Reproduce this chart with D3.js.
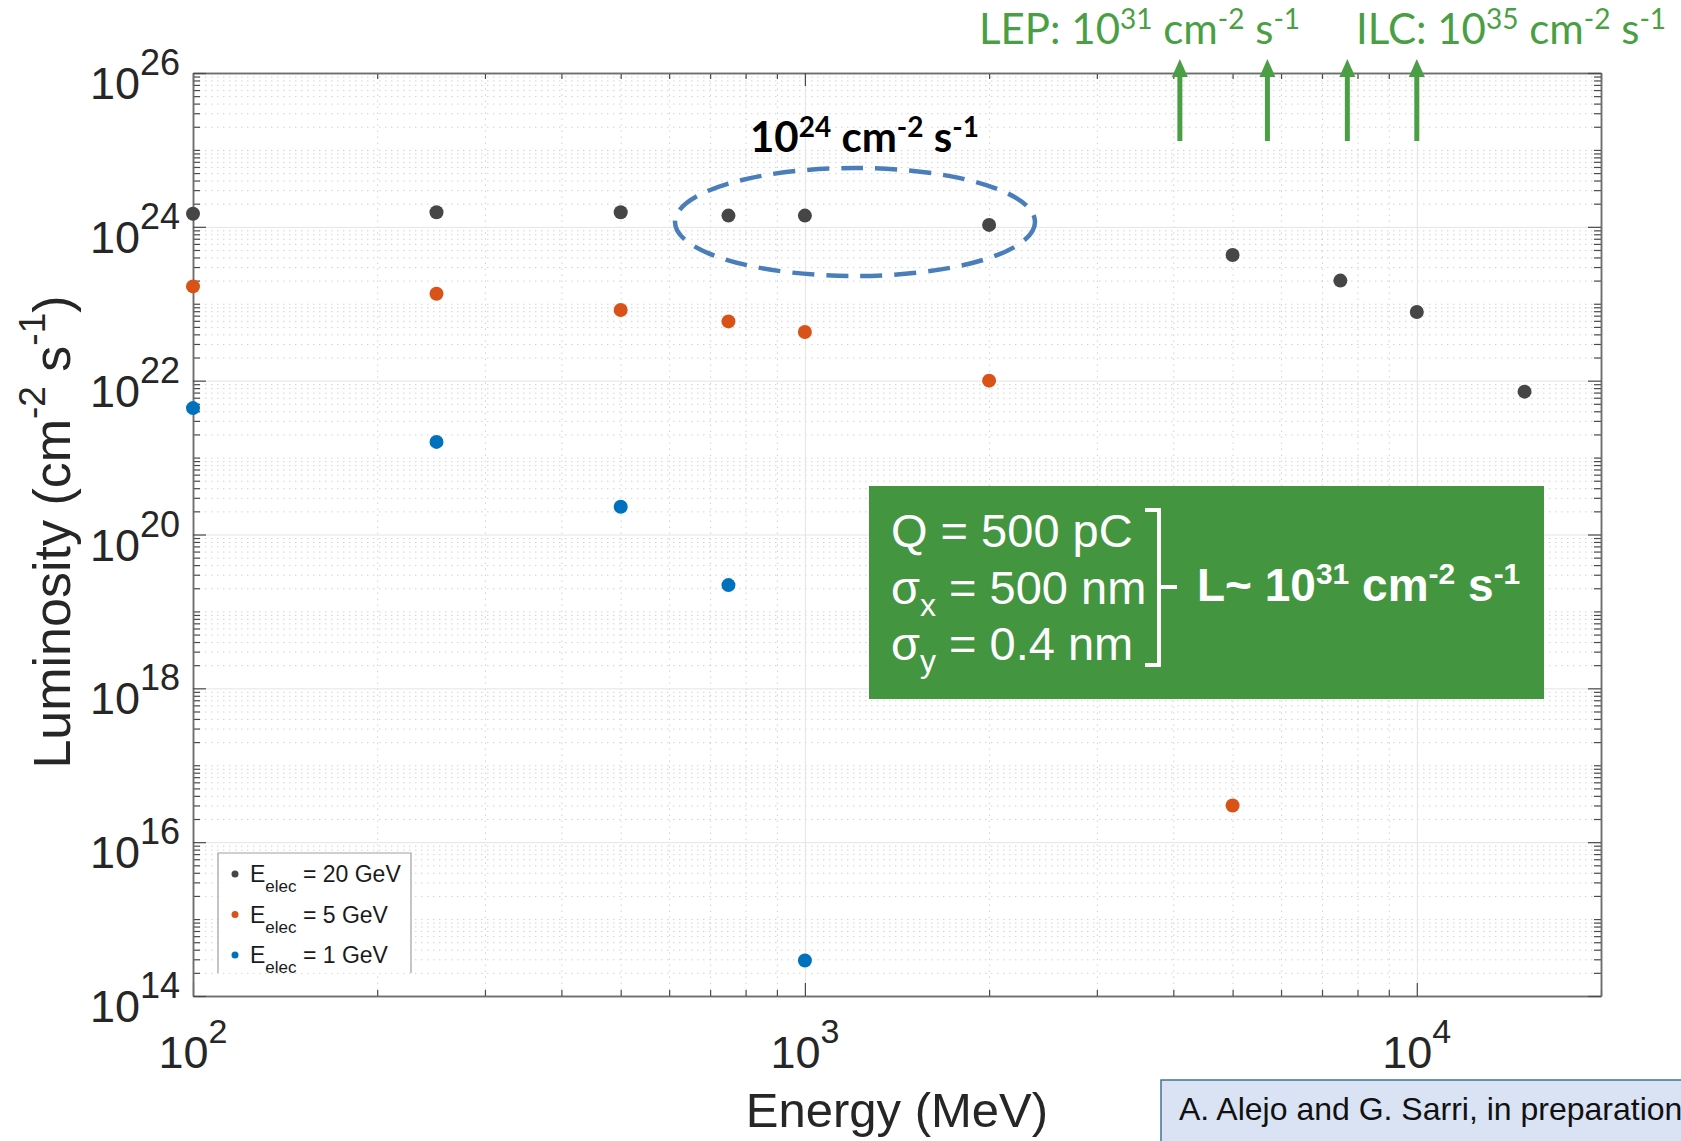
<!DOCTYPE html>
<html>
<head>
<meta charset="utf-8">
<script src="https://cdn.jsdelivr.net/npm/d3@7"></script>
<style>
  html, body { margin: 0; padding: 0; background: #fff; }
  svg { display: block; }
</style>
</head>
<body>
<div id="chart"></div>
<script>
// luminosity vs energy, three electron beam energies
const energy20 = [100, 250, 500, 750, 1000, 2000, 5000, 7500, 10000, 15000];
const lum20 = [1.48e24, 1.55e24, 1.55e24, 1.40e24, 1.40e24, 1.06e24, 4.3e23, 2.0e23, 7.8e22, 7.2e21];
const energy5 = [100, 250, 500, 750, 1000, 2000, 5000];
const lum5 = [1.68e23, 1.35e23, 8.3e22, 5.9e22, 4.3e22, 1.0e22, 3.0e16];
const energy1 = [100, 250, 500, 750, 1000];
const lum1 = [4.4e21, 1.6e21, 2.3e20, 2.2e19, 2.9e14];

const seriesLabels = ['20 GeV', '5 GeV', '1 GeV'];
const seriesColors = ['#464646', '#d95319', '#0072bd'];

const xTickExps = [2, 3, 4];
const yTickExps = [14, 16, 18, 20, 22, 24, 26];

// energies where the LEP / ILC arrows sit
const arrowEnergies = [4100, 5700, 7700, 10000];

const W = 1681, H = 1141;
const plot = { left: 193, right: 1601, top: 73, bottom: 996 };
const green = '#4a9f44';
const FONT = '"Liberation Sans", Arial, Helvetica, sans-serif';
const CAL = 'Lato, "Open Sans", sans-serif';

const svg = d3.select('#chart').append('svg')
    .attr('width', W).attr('height', H)
    .style('font-family', FONT);

svg.append('rect').attr('width', W).attr('height', H).attr('fill', '#fff');

const x = d3.scaleLog().domain([100, 20000]).range([plot.left, plot.right]);
const y = d3.scaleLog().domain([1e14, 1e26]).range([plot.bottom, plot.top]);
const innerW = plot.right - plot.left;
const innerH = plot.bottom - plot.top;

// text with super/subscripts: parts = [[text, kind]] kind 0 normal, 1 sup, -1 sub
function rich(sel, parts, base, small, supShift, subShift) {
    let cur = 0;
    parts.forEach(([t, k]) => {
        const target = k === 1 ? -supShift : (k === -1 ? subShift : 0);
        sel.append('tspan')
            .attr('dy', target - cur)
            .attr('font-size', k ? small : base)
            .text(t);
        cur = target;
    });
    return sel;
}

// minor / major tick values
const xMajor = xTickExps.map(e => Math.pow(10, e));
const xMinor = [];
for (let e = 2; e <= 4; e++) {
    for (let m = 2; m <= 9; m++) {
        const v = m * Math.pow(10, e);
        if (v <= 20000) xMinor.push(v);
    }
}
const yMajor = yTickExps.map(e => Math.pow(10, e));
const yMinor = [];
for (let e = 14; e < 26; e++) {
    for (let m = 1; m <= 9; m++) {
        const v = m * Math.pow(10, e);
        if (m === 1 && e % 2 === 0) continue;
        yMinor.push(v);
    }
}

// grid
const grid = svg.append('g');
grid.append('g')
    .attr('transform', `translate(0,${plot.bottom})`)
    .call(d3.axisBottom(x).tickValues(xMinor).tickSize(-innerH).tickFormat(''))
    .call(g => g.select('.domain').remove())
    .call(g => g.selectAll('line').attr('stroke', '#d2d2d2').attr('stroke-dasharray', '1.5,4.5'));
grid.append('g')
    .attr('transform', `translate(${plot.left},0)`)
    .call(d3.axisLeft(y).tickValues(yMinor).tickSize(-innerW).tickFormat(''))
    .call(g => g.select('.domain').remove())
    .call(g => g.selectAll('line').attr('stroke', '#d2d2d2').attr('stroke-dasharray', '1.5,4.5'));
grid.append('g')
    .attr('transform', `translate(0,${plot.bottom})`)
    .call(d3.axisBottom(x).tickValues(xMajor).tickSize(-innerH).tickFormat(''))
    .call(g => g.select('.domain').remove())
    .call(g => g.selectAll('line').attr('stroke', '#e4e4e4'));
grid.append('g')
    .attr('transform', `translate(${plot.left},0)`)
    .call(d3.axisLeft(y).tickValues(yMajor).tickSize(-innerW).tickFormat(''))
    .call(g => g.select('.domain').remove())
    .call(g => g.selectAll('line').attr('stroke', '#e4e4e4'));

// axes box with inward ticks on all four sides
function styleAxis(g) {
    g.select('.domain').attr('stroke', '#6e6e6e').attr('stroke-width', 1.5);
    g.selectAll('.tick line').attr('stroke', '#4a4a4a').attr('stroke-width', 1.2);
    g.selectAll('text').remove();
}
const axes = svg.append('g');
[[d3.axisBottom, plot.bottom], [d3.axisTop, plot.top]].forEach(([ax, pos]) => {
    axes.append('g').attr('transform', `translate(0,${pos})`)
        .call(ax(x).tickValues(xMinor).tickSize(-6).tickSizeOuter(0)).call(styleAxis);
    axes.append('g').attr('transform', `translate(0,${pos})`)
        .call(ax(x).tickValues(xMajor).tickSize(-13).tickSizeOuter(0)).call(styleAxis);
});
[[d3.axisLeft, plot.left], [d3.axisRight, plot.right]].forEach(([ax, pos]) => {
    axes.append('g').attr('transform', `translate(${pos},0)`)
        .call(ax(y).tickValues(yMinor).tickSize(-7).tickSizeOuter(0)).call(styleAxis);
    axes.append('g').attr('transform', `translate(${pos},0)`)
        .call(ax(y).tickValues(yMajor).tickSize(-13).tickSizeOuter(0)).call(styleAxis);
});

// tick labels
xTickExps.forEach(e => {
    const t = svg.append('text')
        .attr('x', x(Math.pow(10, e))).attr('y', 1068)
        .attr('text-anchor', 'middle').attr('fill', '#262626');
    rich(t, [['10', 0], [String(e), 1]], 45, 34, 25, 0);
});
yTickExps.forEach(e => {
    const t = svg.append('text')
        .attr('x', 180).attr('y', y(Math.pow(10, e)) + 26)
        .attr('text-anchor', 'end').attr('fill', '#262626');
    rich(t, [['10', 0], [String(e), 1]], 45, 36, 24, 0);
});

// axis titles
svg.append('text')
    .attr('x', 897).attr('y', 1127)
    .attr('text-anchor', 'middle').attr('font-size', 49).attr('fill', '#262626')
    .text('Energy (MeV)');
const yl = svg.append('text')
    .attr('transform', 'translate(70,532) rotate(-90)')
    .attr('text-anchor', 'middle').attr('fill', '#262626');
rich(yl, [['Luminosity (cm', 0], ['-2', 1], [' s', 0], ['-1', 1], [')', 0]], 52, 37, 25, 0);

// data points
const series = [
    { xs: energy20, ys: lum20, color: seriesColors[0] },
    { xs: energy5, ys: lum5, color: seriesColors[1] },
    { xs: energy1, ys: lum1, color: seriesColors[2] }
];
const dots = svg.append('g');
series.forEach(s => {
    dots.selectAll(null)
        .data(s.xs.map((e, i) => [e, s.ys[i]]))
        .join('circle')
        .attr('cx', d => x(d[0]))
        .attr('cy', d => y(d[1]))
        .attr('r', 7)
        .attr('fill', s.color);
});

// legend (bottom edge is cut in the original)
const leg = svg.append('g');
leg.append('rect').attr('x', 218).attr('y', 853).attr('width', 193).attr('height', 120).attr('fill', '#fff');
leg.append('path')
    .attr('d', 'M218,973V853H411V973')
    .attr('fill', 'none').attr('stroke', '#a0a0a0').attr('stroke-width', 1.2);
seriesLabels.forEach((lab, i) => {
    const cy = 874 + i * 40.5;
    leg.append('circle').attr('cx', 235).attr('cy', cy).attr('r', 3.5).attr('fill', seriesColors[i]);
    const t = leg.append('text').attr('x', 250).attr('y', cy + 8).attr('fill', '#1a1a1a');
    rich(t, [['E', 0], ['elec', -1], [' = ' + lab, 0]], 23, 17, 0, 10);
});

// dashed ellipse + bold label
svg.append('ellipse')
    .attr('cx', 855).attr('cy', 222).attr('rx', 180).attr('ry', 54)
    .attr('fill', 'none').attr('stroke', '#4a7ebb').attr('stroke-width', 4.5)
    .attr('stroke-dasharray', '22,12');
const ell = svg.append('text')
    .attr('x', 750).attr('y', 152).attr('font-family', CAL).attr('font-weight', 700).attr('fill', '#000');
rich(ell, [['10', 0], ['24', 1], [' cm', 0], ['-2', 1], [' s', 0], ['-1', 1]], 42, 28, 15, 0);

// LEP / ILC labels and arrows
const lep = svg.append('text').attr('x', 979).attr('y', 44).attr('font-family', CAL).attr('fill', green);
rich(lep, [['LEP: 10', 0], ['31', 1], [' cm', 0], ['-2', 1], [' s', 0], ['-1', 1]], 42, 28, 15, 0);
const ilc = svg.append('text').attr('x', 1356).attr('y', 44).attr('font-family', CAL).attr('fill', green);
rich(ilc, [['ILC: 10', 0], ['35', 1], [' cm', 0], ['-2', 1], [' s', 0], ['-1', 1]], 42, 28, 15, 0);

const arrows = svg.append('g');
arrowEnergies.forEach(e => {
    const ax = x(e);
    arrows.append('line')
        .attr('x1', ax).attr('x2', ax).attr('y1', 141).attr('y2', 74)
        .attr('stroke', green).attr('stroke-width', 5);
    arrows.append('path')
        .attr('d', `M${ax - 8},${77}L${ax},${59}L${ax + 8},${77}Z`)
        .attr('fill', green);
});

// green parameter box
const box = svg.append('g');
box.append('rect').attr('x', 869).attr('y', 486).attr('width', 675).attr('height', 213).attr('fill', '#43963f');
const q = box.append('text').attr('x', 891).attr('y', 547).attr('fill', '#fff');
rich(q, [['Q = 500 pC', 0]], 47, 32, 0, 0);
const sx = box.append('text').attr('x', 891).attr('y', 604).attr('fill', '#fff');
rich(sx, [['\u03c3', 0], ['x', -1], [' = 500 nm', 0]], 47, 32, 0, 12);
const sy = box.append('text').attr('x', 891).attr('y', 660).attr('fill', '#fff');
rich(sy, [['\u03c3', 0], ['y', -1], [' = 0.4 nm', 0]], 47, 32, 0, 12);
box.append('path')
    .attr('d', 'M1145,510H1159V665H1145M1159,587H1177')
    .attr('fill', 'none').attr('stroke', '#fff').attr('stroke-width', 4);
const lres = box.append('text').attr('x', 1197).attr('y', 601).attr('fill', '#fff').attr('font-weight', 700);
rich(lres, [['L~ 10', 0], ['31', 1], [' cm', 0], ['-2', 1], [' s', 0], ['-1', 1]], 46, 30, 17, 0);

// credit box
svg.append('rect')
    .attr('x', 1161).attr('y', 1080).attr('width', 540).attr('height', 80)
    .attr('fill', '#dae3f3').attr('stroke', '#41719c').attr('stroke-width', 1.5);
svg.append('text')
    .attr('x', 1179).attr('y', 1120).attr('font-size', 32).attr('fill', '#111')
    .text('A. Alejo and G. Sarri, in preparation');
</script>
</body>
</html>
